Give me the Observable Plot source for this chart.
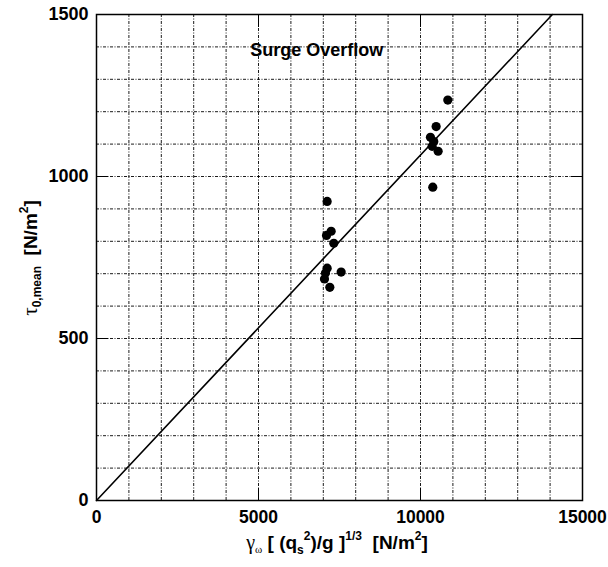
<!DOCTYPE html>
<html>
<head>
<meta charset="utf-8">
<script src="https://cdn.jsdelivr.net/npm/d3@7"></script>
<script src="https://cdn.jsdelivr.net/npm/@observablehq/plot@0.6"></script>
<style>
  html, body { margin: 0; padding: 0; background: #fff; }
  #chart svg { display: block; }
</style>
</head>
<body>
<div id="chart"></div>
<script>
// Measured points (x: gamma_w [(q_s^2)/g]^(1/3) [N/m2], y: tau_0,mean [N/m2])
const pointX = [7119, 7243, 7099, 7324, 7119, 7067, 7036, 7551, 7201,
                10843, 10483, 10307, 10410, 10359, 10544, 10379];
const pointY = [923, 831, 818, 794, 717, 702, 684, 705, 658,
                1236, 1154, 1121, 1108, 1093, 1078, 967];

// Reference line
const lineX = [0, 14070];
const lineY = [0, 1500];

// Axes
const xDomain = [0, 15000];
const yDomain = [0, 1500];
const xTicks = [0, 5000, 10000, 15000];
const yTicks = [0, 500, 1000, 1500];
const xGrid = [1000, 2000, 3000, 4000, 5000, 6000, 7000, 8000, 9000, 10000, 11000, 12000, 13000, 14000];
const yGrid = [100, 200, 300, 400, 500, 600, 700, 800, 900, 1000, 1100, 1200, 1300, 1400];

// Annotation
const annotationText = ["Surge Overflow"];
const annotationX = [6800];
const annotationY = [1390];

const points = pointX.map((x, i) => ({x, y: pointY[i]}));
const lineData = lineX.map((x, i) => ({x, y: lineY[i]}));
const annotations = annotationText.map((t, i) => ({t, x: annotationX[i], y: annotationY[i]}));

const gridStyle = {stroke: "#000", strokeOpacity: 1, strokeWidth: 0.9, strokeDasharray: "3,1.5,1,1.5"};
const plain = d3.format("d");

const plot = Plot.plot({
  width: 608,
  height: 567,
  marginLeft: 96,
  marginRight: 26,
  marginTop: 14,
  marginBottom: 67,
  style: {fontFamily: "'Liberation Sans', Arial, sans-serif", fontSize: "18px", fontWeight: "bold", color: "#000", background: "#fff"},
  x: {domain: xDomain},
  y: {domain: yDomain},
  marks: [
    Plot.gridX(xGrid, gridStyle),
    Plot.gridY(yGrid, gridStyle),
    Plot.axisX(xTicks, {anchor: "bottom", tickSize: 0, tickPadding: 10, label: null, tickFormat: plain, fontSize: 17.5, fontWeight: "bold"}),
    Plot.axisY(yTicks, {anchor: "left", tickSize: 0, tickPadding: 8, label: null, tickFormat: plain, fontSize: 18, fontWeight: "bold"}),
    Plot.axisX(xTicks, {anchor: "top", tickSize: -12, tickFormat: () => "", label: null, stroke: "#000", strokeWidth: 1}),
    Plot.axisX(xTicks, {anchor: "bottom", tickSize: -12, tickFormat: () => "", label: null, stroke: "#000", strokeWidth: 1}),
    Plot.axisY(yTicks, {anchor: "left", tickSize: -12, tickFormat: () => "", label: null, stroke: "#000", strokeWidth: 1}),
    Plot.axisY(yTicks, {anchor: "right", tickSize: -12, tickFormat: () => "", label: null, stroke: "#000", strokeWidth: 1}),
    Plot.line(lineData, {x: "x", y: "y", stroke: "#000", strokeWidth: 1.6}),
    Plot.dot(points, {x: "x", y: "y", r: 4.6, fill: "#000", stroke: "none"}),
    Plot.text(annotations, {x: "x", y: "y", text: "t", fontSize: 18, fontWeight: "bold", fill: "#000", textAnchor: "middle"}),
    Plot.frame({stroke: "#000", strokeWidth: 1.5})
  ]
});

document.getElementById("chart").appendChild(plot);

// Axis titles with sub/superscripts
const svg = d3.select(plot);
const serif = "'Liberation Serif', 'Times New Roman', serif";

const xl = svg.append("text")
  .attr("x", 337).attr("y", 549)
  .attr("text-anchor", "middle")
  .attr("font-size", 19).attr("font-weight", "bold")
  .attr("fill", "#000");
xl.append("tspan").attr("font-family", serif).attr("font-weight", "normal").attr("font-size", 20).text("γ");
xl.append("tspan").attr("font-family", serif).attr("font-weight", "normal").attr("font-size", 11).attr("dy", 4).text("ω");
xl.append("tspan").attr("dy", -4).text(" [ (q");
xl.append("tspan").attr("font-size", 12).attr("dy", 5).text("s");
xl.append("tspan").attr("font-size", 12).attr("dy", -14).text("2");
xl.append("tspan").attr("dy", 9).text(")/g ]");
xl.append("tspan").attr("font-size", 12).attr("dy", -9).text("1/3");
xl.append("tspan").attr("dy", 9).text("  [N/m");
xl.append("tspan").attr("font-size", 12).attr("dy", -9).text("2");
xl.append("tspan").attr("dy", 9).text("]");

const yl = svg.append("text")
  .attr("transform", "translate(37,258) rotate(-90)")
  .attr("text-anchor", "middle")
  .attr("font-size", 19).attr("font-weight", "bold")
  .attr("fill", "#000");
yl.append("tspan").attr("font-family", serif).attr("font-weight", "normal").attr("font-size", 21).text("τ");
yl.append("tspan").attr("font-size", 12).attr("dy", 4).text("0,mean");
yl.append("tspan").attr("dy", -4).text("  [N/m");
yl.append("tspan").attr("font-size", 12).attr("dy", -9).text("2");
yl.append("tspan").attr("dy", 9).text("]");
</script>
</body>
</html>
